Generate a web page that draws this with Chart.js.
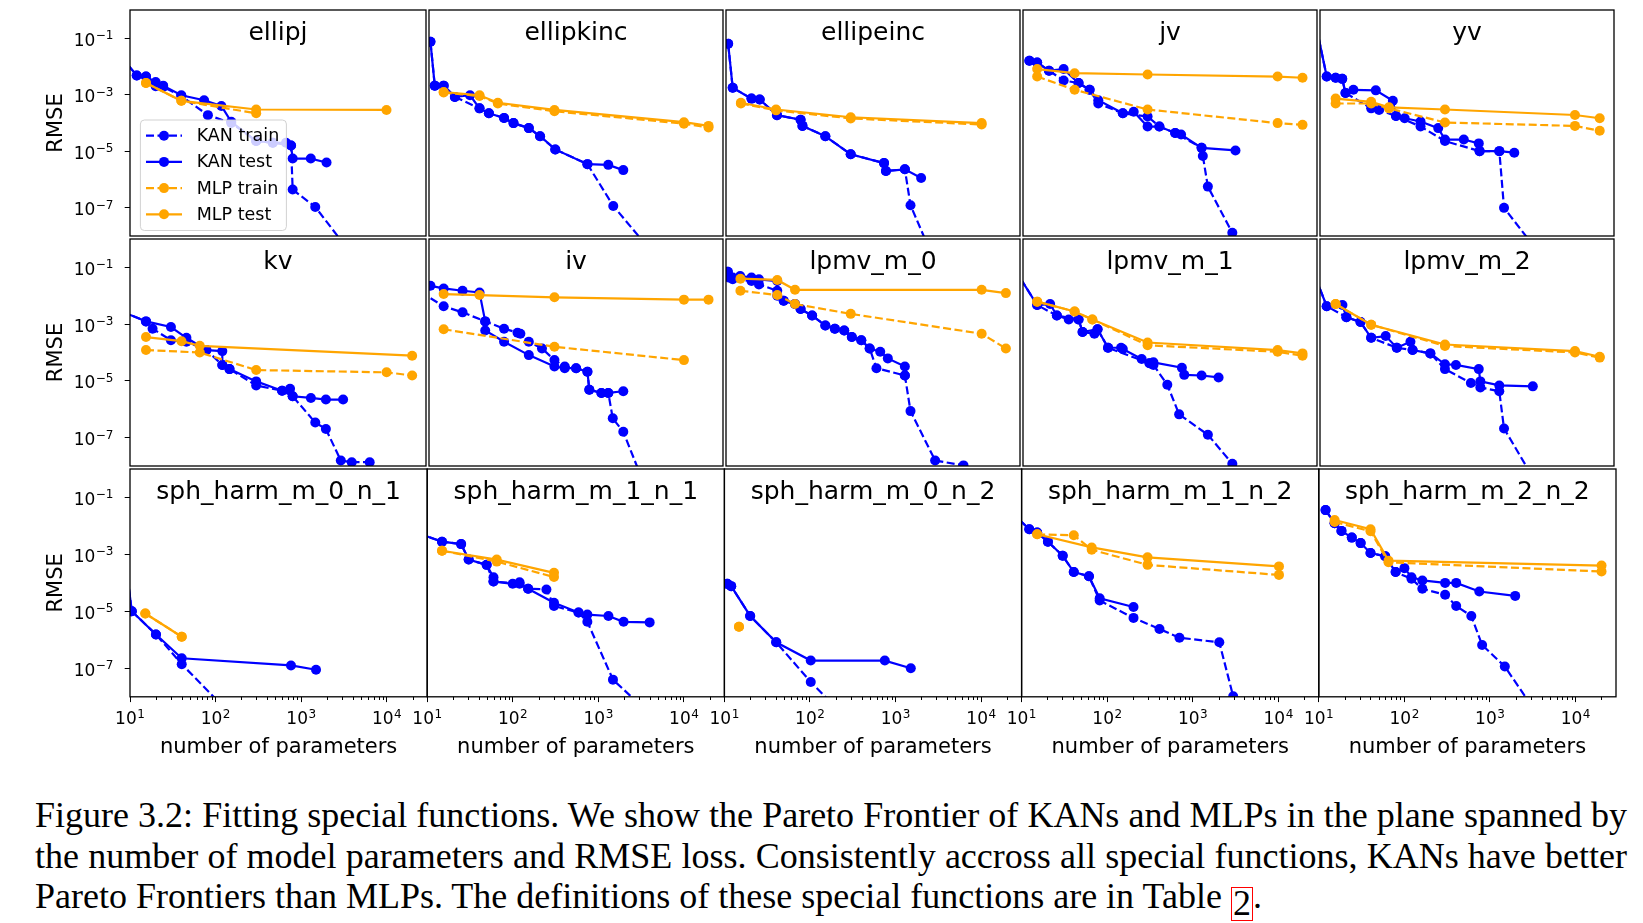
<!DOCTYPE html>
<html>
<head>
<meta charset="utf-8">
<script src="https://cdn.jsdelivr.net/npm/chart.js@4.4.0/dist/chart.umd.min.js"></script>
<style>
html,body{margin:0;padding:0;background:#fff;}
#wrap{position:relative;width:1643px;height:923px;overflow:hidden;background:#fff;}
#wrap canvas{position:absolute;}
#caption{position:absolute;left:35px;top:795px;width:1592px;font-family:"Liberation Serif","Times New Roman",serif;font-size:36px;color:#000;}
#caption div{height:40.5px;line-height:40.5px;white-space:nowrap;}
#caption div.j{text-align:justify;text-align-last:justify;}
#caption .ref{display:inline-block;border:1.6px solid #ff0000;line-height:30px;height:32px;padding:0 1px;vertical-align:-7px;}
</style>
</head>
<body>
<div id="wrap">
  <div id="caption">
    <div class="j">Figure 3.2: Fitting special functions. We show the Pareto Frontier of KANs and MLPs in the plane spanned by</div>
    <div class="j">the number of model parameters and RMSE loss. Consistently accross all special functions, KANs have better</div>
    <div>Pareto Frontiers than MLPs. The definitions of these special functions are in Table <span class="ref">2</span>.</div>
  </div>
</div>
<script>
// ---------------- data (number of parameters, RMSE) ----------------
const panelTitles = ['ellipj','ellipkinc','ellipeinc','jv','yv','kv','iv','lpmv_m_0','lpmv_m_1','lpmv_m_2',
  'sph_harm_m_0_n_1','sph_harm_m_1_n_1','sph_harm_m_0_n_2','sph_harm_m_1_n_2','sph_harm_m_2_n_2'];
const seriesLabels = ['KAN train','KAN test','MLP train','MLP test'];
const xTickValues = [10, 100, 1000, 10000];
const yTickValues = [1e-7, 1e-5, 1e-3, 1e-1];

const ellipj_kanTrain = [[8,2.1e-2],[12,4.8e-3],[15.4,4.4e-3],[20,2.0e-3],[24.5,1.9e-3],[40,9.0e-4],[82,1.9e-4],[154,1.0e-4],[302,2.3e-5],[473,2.0e-5],[774,1.6e-5],[809,4.4e-7],[1490,1.07e-7],[4000,2.2e-9]];
const ellipj_kanTest = [[8,2.1e-2],[12,4.8e-3],[15.4,4.4e-3],[20,2.8e-3],[24.5,2.1e-3],[40,9.6e-4],[74,6.4e-4],[118,4.0e-4],[154,1.1e-4],[302,2.3e-5],[473,2.0e-5],[676,2.0e-5],[774,1.6e-5],[809,5.5e-6],[1320,5.5e-6],[2020,4.0e-6]];
const ellipj_mlpTrain = [[15.4,2.6e-3],[40,6.1e-4],[302,2.2e-4]];
const ellipj_mlpTest = [[15.4,2.6e-3],[40,6.1e-4],[302,3.0e-4],[10200,2.9e-4]];

const ellipkinc_kanTrain = [[10.4,7.5e-2],[11.7,2.1e-3],[14.9,2.1e-3],[20.2,8.4e-4],[39.5,3.3e-4],[51,2.2e-4],[77,1.5e-4],[99.5,9.9e-5],[151,6.6e-5],[205,3.4e-5],[310,1.16e-5],[743,3.5e-6],[1500,1.16e-7],[4000,3.5e-9]];
const ellipkinc_kanTest = [[10.4,7.5e-2],[11.7,2.1e-3],[14.9,2.1e-3],[20.2,8.4e-4],[30.5,9.6e-4],[39.5,3.3e-4],[51,2.2e-4],[77,1.5e-4],[99.5,9.9e-5],[151,6.6e-5],[205,3.4e-5],[310,1.16e-5],[743,3.5e-6],[1310,3.3e-6],[1970,2.15e-6]];
const ellipkinc_mlpTrain = [[14.9,1.2e-3],[39.5,9.0e-4],[65,4.9e-4],[303,2.6e-4],[10250,9.5e-5],[20000,7.0e-5]];
const ellipkinc_mlpTest = [[14.9,1.25e-3],[39.5,9.6e-4],[65,5.2e-4],[303,2.9e-4],[10250,1.07e-4],[20000,7.9e-5]];

const ellipeinc_kanTrain = [[10.6,6.4e-2],[12,1.77e-3],[20,7.3e-4],[25,6.8e-4],[40,1.9e-4],[76,1.3e-4],[80,7.9e-5],[149,3.4e-5],[297,7.8e-6],[735,3.8e-6],[774,2.0e-6],[1295,2.3e-6],[1510,1.23e-7],[2500,3.6e-9]];
const ellipeinc_kanTest = [[10.6,6.4e-2],[12,1.77e-3],[20,7.3e-4],[25,6.8e-4],[40,1.9e-4],[76,1.3e-4],[80,7.9e-5],[149,3.4e-5],[297,7.8e-6],[735,3.8e-6],[774,2.0e-6],[1295,2.3e-6],[2015,1.13e-6]];
const ellipeinc_mlpTrain = [[15,4.9e-4],[39,2.8e-4],[297,1.45e-4],[10450,8.8e-5]];
const ellipeinc_mlpTest = [[15,5.2e-4],[39,3.0e-4],[297,1.6e-4],[10450,9.9e-5]];

const jv_kanTrain = [[11.9,1.59e-2],[14.7,1.39e-2],[20.3,7.1e-3],[30.2,3.2e-3],[45.3,2.6e-3],[61.2,1.5e-3],[77.5,4.9e-4],[151,2.2e-4],[296,1.7e-4],[408,7.5e-5],[627,4.4e-5],[1285,1.32e-5],[1330,6.8e-6],[1525,5.6e-7],[2965,1.3e-8]];
const jv_kanTest = [[11.9,1.59e-2],[14.7,1.39e-2],[20.3,7.1e-3],[30.2,8.1e-3],[45.3,2.6e-3],[61.2,1.5e-3],[77.5,6.4e-4],[151,2.2e-4],[203,2.5e-4],[296,7.5e-5],[408,7.5e-5],[627,4.4e-5],[736,3.9e-5],[1285,1.32e-5],[3230,1.07e-5]];
const jv_mlpTrain = [[14.7,4.4e-3],[40.7,1.5e-3],[296,3.0e-4],[10160,9.9e-5],[20000,8.6e-5]];
const jv_mlpTest = [[14.7,8.1e-3],[40.7,5.8e-3],[296,5.2e-3],[10160,4.4e-3],[20000,4.0e-3]];

const yv_kanTrain = [[8,1.5],[12,4.4e-3],[15.3,4.0e-3],[18.3,3.65e-3],[20,1.16e-3],[40.2,3.3e-4],[49.8,2.9e-4],[79,1.78e-4],[154,7.5e-5],[299,2.3e-5],[767,1.01e-5],[1312,1.01e-5],[1490,9.9e-8],[4000,2.2e-9]];
const yv_kanTest = [[8,1.5],[12,4.4e-3],[15.3,4.0e-3],[18.3,3.65e-3],[20,1.16e-3],[24.8,1.5e-3],[45.6,1.43e-3],[72.5,6.1e-4],[79,1.78e-4],[100,1.47e-4],[154,1.13e-4],[249,6.6e-5],[299,2.6e-5],[499,2.6e-5],[750,1.9e-5],[767,1.01e-5],[1312,1.01e-5],[1970,8.9e-6]];
const yv_mlpTrain = [[15.3,4.9e-4],[40.2,4.9e-4],[65.2,3.3e-4],[299,1.04e-4],[10260,7.9e-5],[20100,5.3e-5]];
const yv_mlpTest = [[15.3,7.3e-4],[40.2,5.6e-4],[65.2,3.6e-4],[299,3.0e-4],[10260,1.92e-4],[20100,1.47e-4]];

const kv_kanTrain = [[8,2.8e-3],[15.4,1.25e-3],[18.4,6.9e-4],[30.2,2.7e-4],[45.9,2.4e-4],[78.7,1.22e-4],[121,3.65e-5],[147,2.6e-5],[302,6.9e-6],[608,4.5e-6],[809,2.87e-6],[1490,3.4e-7],[1985,2.0e-7],[2970,1.56e-8],[3990,1.36e-8],[6480,1.36e-8]];
const kv_kanTest = [[8,2.8e-3],[15.4,1.25e-3],[30.2,7.9e-4],[45.9,3.3e-4],[78.7,1.22e-4],[121,1.12e-4],[121,3.65e-5],[147,2.6e-5],[302,9.6e-6],[608,4.5e-6],[754,5.3e-6],[809,2.87e-6],[1324,2.5e-6],[1985,2.2e-6],[3160,2.2e-6]];
const kv_mlpTrain = [[15.4,1.22e-4],[65.8,1.0e-4],[302,2.4e-5],[10230,2.0e-5],[20400,1.55e-5]];
const kv_mlpTest = [[15.4,3.5e-4],[40.2,2.5e-4],[65.8,1.72e-4],[20400,7.7e-5]];

const iv_kanTrain = [[8,1.32e-2],[14.9,4.27e-3],[24.9,2.6e-3],[46.1,1.25e-3],[77,6.9e-4],[111,5.0e-4],[120,4.6e-4],[151,2.4e-4],[216,1.39e-4],[303,5.4e-5],[401,3.2e-5],[546,2.8e-5],[743,2.1e-5],[782,4.9e-6],[1087,3.75e-6],[1310,3.75e-6],[1480,4.8e-7],[1970,1.6e-7],[3200,4.2e-9]];
const iv_kanTest = [[10.4,2.24e-2],[14.9,1.81e-2],[24.9,1.5e-2],[39.5,1.31e-2],[46.1,1.25e-3],[46.1,6.0e-4],[77,2.4e-4],[151,8.1e-5],[303,3.2e-5],[401,2.8e-5],[546,2.8e-5],[743,2.1e-5],[782,4.9e-6],[1087,3.75e-6],[1310,3.75e-6],[1970,4.3e-6]];
const iv_mlpTrain = [[14.9,6.6e-4],[303,1.59e-4],[10250,5.4e-5]];
const iv_mlpTest = [[14.9,1.15e-2],[39.5,1.06e-2],[303,8.8e-3],[10250,7.3e-3],[20000,7.3e-3]];

const lpmv0_kanTrain = [[10.5,7.0e-2],[10.8,4.4e-2],[12,3.8e-2],[20,3.3e-2],[24.5,2.5e-2],[40.3,1.5e-2],[48,6.7e-3],[65.3,5.1e-3],[76,3.4e-3],[104,2.0e-3],[149,9.0e-4],[193,6.9e-4],[249,6.0e-4],[306,3.5e-4],[396,2.7e-4],[497,1.39e-4],[598,2.8e-5],[1295,1.55e-5],[1510,8.6e-7],[2950,1.56e-8],[6380,1.05e-8]];
const lpmv0_kanTest = [[10.5,7.0e-2],[10.8,5.0e-2],[12,4.4e-2],[14.7,5.0e-2],[20,4.4e-2],[24.5,3.8e-2],[40.3,3.3e-2],[40.3,1.0e-2],[48,6.7e-3],[65.3,5.1e-3],[76,3.4e-3],[104,2.0e-3],[149,9.0e-4],[193,6.9e-4],[249,6.0e-4],[306,3.5e-4],[396,2.7e-4],[497,1.39e-4],[663,1.06e-4],[815,6.2e-5],[1295,3.2e-5],[1295,1.55e-5]];
const lpmv0_mlpTrain = [[14.8,1.5e-2],[40.3,1.06e-2],[65.3,5.1e-3],[297,2.3e-3],[10450,4.6e-4],[20200,1.39e-4]];
const lpmv0_mlpTest = [[14.8,4.0e-2],[40.3,3.6e-2],[65.3,1.62e-2],[10450,1.62e-2],[20200,1.24e-2]];

const lpmv1_kanTrain = [[8,8.5e-2],[14.7,4.7e-3],[25.1,2.0e-3],[45.3,1.46e-3],[50.5,5.3e-4],[75.9,6.6e-4],[101,1.47e-4],[312,4.2e-5],[347,3.65e-5],[506,7.3e-6],[698,6.6e-7],[1525,1.26e-7],[2965,1.2e-8]];
const lpmv1_kanTest = [[8,8.5e-2],[14.7,4.7e-3],[20.9,5.1e-3],[25.1,2.0e-3],[34.7,1.46e-3],[45.3,1.46e-3],[50.5,5.3e-4],[69.7,4.6e-4],[75.9,6.6e-4],[101,1.47e-4],[144,1.47e-4],[151,1.32e-4],[252,5.9e-5],[312,4.2e-5],[347,4.5e-5],[752,2.9e-5],[802,1.63e-5],[1285,1.55e-5],[2040,1.32e-5]];
const lpmv1_mlpTrain = [[14.7,6.2e-3],[40.7,2.8e-3],[65.9,1.46e-3],[296,1.8e-4],[10160,1.06e-4],[20000,7.7e-5]];
const lpmv1_mlpTest = [[14.7,6.2e-3],[40.7,2.8e-3],[65.9,1.46e-3],[296,2.25e-4],[10160,1.22e-4],[20000,9.3e-5]];

const lpmv2_kanTrain = [[8,9.5e-2],[12,4.27e-3],[20.5,1.76e-3],[30.1,1.18e-3],[40.2,3.3e-4],[80.7,1.47e-4],[124,1.22e-4],[201,9.3e-5],[299,2.6e-5],[605,8.4e-6],[783,5.9e-6],[1310,4.3e-6],[1490,2.1e-7],[3550,2.6e-9]];
const lpmv2_kanTest = [[8,9.5e-2],[12,4.27e-3],[18.4,4.7e-3],[20.5,1.76e-3],[30.1,1.18e-3],[40.2,3.3e-4],[59.7,3.8e-4],[80.7,1.47e-4],[117,2.4e-4],[124,1.22e-4],[201,9.3e-5],[299,3.85e-5],[403,3.65e-5],[750,2.6e-5],[783,9.6e-6],[1310,6.9e-6],[3260,6.4e-6]];
const lpmv2_mlpTrain = [[15.3,5.1e-3],[40.2,9.5e-4],[299,1.7e-4],[10260,1.0e-4],[20100,6.6e-5]];
const lpmv2_mlpTest = [[15.3,5.1e-3],[40.2,9.5e-4],[299,1.91e-4],[10260,1.12e-4],[20100,7.1e-5]];

const sh01_kanTrain = [[8,6.3e-3],[10.5,1.01e-5],[20.1,1.55e-6],[40.2,1.4e-7],[200,1e-9]];
const sh01_kanTest = [[8,6.3e-3],[10.5,1.01e-5],[20.1,1.55e-6],[40.2,2.26e-7],[760,1.26e-7],[1490,8.9e-8]];
const sh01_mlpTrain = [[15.1,8.4e-6],[40.2,1.29e-6]];
const sh01_mlpTest = [[15.1,8.4e-6],[40.2,1.29e-6]];

const sh11_kanTrain = [[8,5.4e-3],[14.9,2.8e-3],[24.9,2.3e-3],[30.5,6.6e-4],[49.5,4.3e-4],[59.5,1.12e-4],[120,9.3e-5],[151,6.2e-5],[247,5.9e-5],[303,1.55e-5],[586,9.1e-6],[743,4.3e-6],[1480,4.0e-8],[3500,3.6e-9]];
const sh11_kanTest = [[8,5.4e-3],[14.9,2.8e-3],[24.9,2.3e-3],[30.5,6.6e-4],[49.5,4.3e-4],[59.5,1.59e-4],[59.5,1.12e-4],[99.7,9.3e-5],[120,1.06e-4],[151,6.2e-5],[303,2.0e-5],[586,9.1e-6],[743,7.7e-6],[1310,6.9e-6],[1970,4.3e-6],[3970,4.1e-6]];
const sh11_mlpTrain = [[14.9,1.35e-3],[64.9,5.6e-4],[303,1.6e-4]];
const sh11_mlpTest = [[14.9,1.35e-3],[64.9,6.6e-4],[303,2.25e-4]];

const sh02_kanTrain = [[10.8,9.3e-5],[12,7.7e-5],[20,6.9e-6],[40.3,8.2e-7],[102,3.3e-8],[300,1.25e-9]];
const sh02_kanTest = [[10.8,9.3e-5],[12,7.7e-5],[20,6.9e-6],[40.3,8.2e-7],[102,1.87e-7],[748,1.87e-7],[1505,1.01e-7]];
const sh02_mlpTrain = [[14.8,2.9e-6]];
const sh02_mlpTest = [[14.8,2.9e-6]];

const sh12_kanTrain = [[8,2.6e-2],[12.3,7.7e-3],[15.2,5.9e-3],[20.3,2.8e-3],[30.2,9.0e-4],[40.7,2.4e-4],[61.2,1.72e-4],[81.7,2.4e-5],[203,5.9e-6],[408,2.4e-6],[698,1.19e-6],[2040,8.2e-7],[2965,1.04e-8]];
const sh12_kanTest = [[8,2.6e-2],[12.3,7.7e-3],[15.2,5.9e-3],[20.3,2.8e-3],[30.2,9.0e-4],[40.7,2.4e-4],[61.2,1.72e-4],[81.7,2.9e-5],[203,1.43e-5]];
const sh12_mlpTrain = [[15.2,5.1e-3],[40.7,4.7e-3],[65.9,1.46e-3],[296,4.3e-4],[10160,1.91e-4]];
const sh12_mlpTest = [[15.2,5.1e-3],[65.9,1.76e-3],[296,7.9e-4],[10160,3.8e-4]];

const sh22_kanTrain = [[12,3.6e-2],[15.3,1.24e-2],[18.4,6.7e-3],[24.3,3.9e-3],[30.8,2.5e-3],[40.2,1.12e-3],[59.7,8.6e-4],[79,2.4e-4],[121,1.39e-4],[162,6.2e-5],[299,3.85e-5],[403,1.55e-5],[605,6.9e-6],[809,6.6e-7],[1490,1.16e-7],[3550,2.5e-9]];
const sh22_kanTest = [[12,3.6e-2],[15.3,1.24e-2],[18.4,6.7e-3],[24.3,3.9e-3],[30.8,2.5e-3],[40.2,1.12e-3],[59.7,8.6e-4],[79,2.4e-4],[100,3.3e-4],[121,1.59e-4],[162,1.22e-4],[299,1.0e-4],[403,1.0e-4],[750,5.0e-5],[1970,3.5e-5]];
const sh22_mlpTrain = [[15.3,1.38e-2],[40.2,6.5e-3],[65.2,5.3e-4],[20100,2.5e-4]];
const sh22_mlpTest = [[15.3,1.62e-2],[40.2,7.7e-3],[65.2,6.05e-4],[20100,4.05e-4]];

const panelSeries = [
  [ellipj_kanTrain, ellipj_kanTest, ellipj_mlpTrain, ellipj_mlpTest],
  [ellipkinc_kanTrain, ellipkinc_kanTest, ellipkinc_mlpTrain, ellipkinc_mlpTest],
  [ellipeinc_kanTrain, ellipeinc_kanTest, ellipeinc_mlpTrain, ellipeinc_mlpTest],
  [jv_kanTrain, jv_kanTest, jv_mlpTrain, jv_mlpTest],
  [yv_kanTrain, yv_kanTest, yv_mlpTrain, yv_mlpTest],
  [kv_kanTrain, kv_kanTest, kv_mlpTrain, kv_mlpTest],
  [iv_kanTrain, iv_kanTest, iv_mlpTrain, iv_mlpTest],
  [lpmv0_kanTrain, lpmv0_kanTest, lpmv0_mlpTrain, lpmv0_mlpTest],
  [lpmv1_kanTrain, lpmv1_kanTest, lpmv1_mlpTrain, lpmv1_mlpTest],
  [lpmv2_kanTrain, lpmv2_kanTest, lpmv2_mlpTrain, lpmv2_mlpTest],
  [sh01_kanTrain, sh01_kanTest, sh01_mlpTrain, sh01_mlpTest],
  [sh11_kanTrain, sh11_kanTest, sh11_mlpTrain, sh11_mlpTest],
  [sh02_kanTrain, sh02_kanTest, sh02_mlpTrain, sh02_mlpTest],
  [sh12_kanTrain, sh12_kanTest, sh12_mlpTrain, sh12_mlpTest],
  [sh22_kanTrain, sh22_kanTest, sh22_mlpTrain, sh22_mlpTest]
];

// ---------------- styling / layout ----------------
const COLORS = ['#0000ff', '#0000ff', '#ffa500', '#ffa500'];
const DASHES = [[8, 3.5], [], [8, 3.5], []];
const LINE_W = 2.2, PT_R = 5;
const X_MIN = 10, X_MAX = 29650, Y_MIN = 1e-8, Y_MAX = 1;
const COL_L = [130, 427.2, 724.4, 1021.6, 1318.8], PANEL_W = 297.2;
const ROW_T = [8.4, 237.9, 467.3], PANEL_H = 229.5;
const FONT = '"DejaVu Sans", sans-serif';

Chart.defaults.font.family = FONT;
Chart.defaults.color = '#000';

// draws a tick label "10" with a raised exponent, positioned via the scale
function drawPowLabel(ctx, value, x, baseY, align) {
  const e = Math.round(Math.log10(value));
  const base = '10', sup = String(e).replace('-', '\u2212');
  ctx.font = '17px ' + FONT;
  const w1 = ctx.measureText(base).width;
  ctx.font = '12px ' + FONT;
  const w2 = ctx.measureText(sup).width;
  const total = w1 + 0.5 + w2;
  const x0 = align === 'right' ? x - total : x - total / 2;
  ctx.textAlign = 'left';
  ctx.textBaseline = 'alphabetic';
  ctx.font = '17px ' + FONT;
  ctx.fillText(base, x0, baseY);
  ctx.font = '12px ' + FONT;
  ctx.fillText(sup, x0 + w1 + 0.5, baseY - 6.5);
}

function zeroScalePadding(s) {
  s.paddingTop = 0; s.paddingBottom = 0; s.paddingLeft = 0; s.paddingRight = 0;
}

const decor = {
  id: 'decor',
  afterDraw(chart, args, o) {
    const ctx = chart.ctx, a = chart.chartArea;
    ctx.save();
    ctx.strokeStyle = '#000';
    ctx.fillStyle = '#000';
    ctx.lineWidth = 1;
    if (o.xAxis) {
      const xs = chart.scales.x;
      ctx.beginPath();
      for (let d = 10; d < X_MAX; d *= 10) {
        for (let k = 2; k <= 9; k++) {
          const v = k * d;
          if (v > X_MAX) break;
          const px = Math.round(xs.getPixelForValue(v)) + 0.5;
          ctx.moveTo(px, a.bottom); ctx.lineTo(px, a.bottom + 3.2);
        }
      }
      ctx.stroke();
      xs.ticks.forEach(t => drawPowLabel(ctx, t.value, xs.getPixelForValue(t.value), a.bottom + 27.3, 'center'));
    }
    if (o.yAxis) {
      const ys = chart.scales.y;
      ys.ticks.forEach(t => drawPowLabel(ctx, t.value, a.left - 16.5, ys.getPixelForValue(t.value) + 7.4, 'right'));
    }
    // frame
    ctx.lineWidth = 1.3;
    ctx.strokeRect(a.left, a.top, a.right - a.left, a.bottom - a.top);
    // panel title
    ctx.fillStyle = '#000';
    ctx.font = '25px ' + FONT;
    ctx.textAlign = 'center';
    ctx.textBaseline = 'alphabetic';
    ctx.fillText(o.title, (a.left + a.right) / 2, a.top + 29.5);
    // legend
    if (o.legend) {
      const bx = a.left + 10.4, by = a.top + 110, bw = 146, bh = 110.5, r = 4;
      ctx.beginPath();
      ctx.moveTo(bx + r, by);
      ctx.arcTo(bx + bw, by, bx + bw, by + bh, r);
      ctx.arcTo(bx + bw, by + bh, bx, by + bh, r);
      ctx.arcTo(bx, by + bh, bx, by, r);
      ctx.arcTo(bx, by, bx + bw, by, r);
      ctx.closePath();
      ctx.fillStyle = 'rgba(255,255,255,0.8)';
      ctx.fill();
      ctx.strokeStyle = 'rgba(204,204,204,0.9)';
      ctx.lineWidth = 1;
      ctx.stroke();
      const rows = [125.7, 151.9, 178.1, 204.3];
      ctx.font = '17.5px ' + FONT;
      ctx.textAlign = 'left';
      ctx.textBaseline = 'middle';
      seriesLabels.forEach((lab, i) => {
        const y = a.top + rows[i];
        ctx.strokeStyle = COLORS[i];
        ctx.lineWidth = LINE_W;
        ctx.setLineDash(DASHES[i]);
        ctx.beginPath();
        ctx.moveTo(a.left + 16, y); ctx.lineTo(a.left + 52, y);
        ctx.stroke();
        ctx.setLineDash([]);
        ctx.fillStyle = COLORS[i];
        ctx.beginPath(); ctx.arc(a.left + 34, y, PT_R, 0, Math.PI * 2); ctx.fill();
        ctx.fillStyle = '#000';
        ctx.fillText(lab, a.left + 66.7, y + 1);
      });
    }
    ctx.restore();
  }
};

const wrap = document.getElementById('wrap');

panelTitles.forEach((title, i) => {
  const r = Math.floor(i / 5), c = i % 5;
  const L = COL_L[c], T = ROW_T[r], W = PANEL_W, H = PANEL_H;
  const hasY = c === 0, hasX = r === 2;
  const padL = hasY ? L : (hasX ? 26 : 3), padR = hasX ? 26 : 3, padT = 3, padB = hasX ? 72 : 3;
  const cx = Math.floor(L - padL), cy = Math.floor(T - padT);
  const inL = L - cx, inT = T - cy;
  const cw = Math.ceil(inL + W + padR), ch = Math.ceil(inT + H + padB);
  const yW = hasY ? 128 : 0, xH = hasX ? 68 : 0;

  const canvas = document.createElement('canvas');
  canvas.width = cw; canvas.height = ch;
  canvas.style.left = cx + 'px'; canvas.style.top = cy + 'px';
  canvas.style.width = cw + 'px'; canvas.style.height = ch + 'px';
  wrap.appendChild(canvas);

  const datasets = panelSeries[i].map((arr, k) => ({
    label: seriesLabels[k],
    data: arr.map(([x, y]) => ({x, y})),
    showLine: true,
    borderColor: COLORS[k],
    backgroundColor: COLORS[k],
    borderWidth: LINE_W,
    borderDash: DASHES[k],
    pointRadius: PT_R,
    pointHoverRadius: PT_R,
    pointBorderWidth: 0,
    pointBackgroundColor: COLORS[k],
    tension: 0,
    clip: 0,
    order: 4 - k
  }));

  new Chart(canvas, {
    type: 'scatter',
    data: {datasets},
    plugins: [decor],
    options: {
      responsive: false,
      animation: false,
      devicePixelRatio: 1,
      events: [],
      layout: {padding: {left: inL - yW, top: inT, right: cw - inL - W, bottom: ch - inT - H - xH}},
      plugins: {
        legend: {display: false},
        tooltip: {enabled: false},
        decor: {title, legend: i === 0, xAxis: hasX, yAxis: hasY}
      },
      scales: {
        x: {
          type: 'logarithmic', min: X_MIN, max: X_MAX, position: 'bottom', display: hasX,
          afterBuildTicks: s => { s.ticks = xTickValues.map(v => ({value: v})); },
          afterFit: s => { zeroScalePadding(s); if (hasX) s.height = xH; },
          ticks: {display: false, autoSkip: false, maxRotation: 0},
          grid: {display: true, drawOnChartArea: false, drawTicks: true, tickLength: 5.3, color: '#000', lineWidth: 1},
          border: {display: false},
          title: {display: true, text: 'number of parameters', color: '#000', font: {size: 21, lineHeight: 1.2}, padding: {top: 0, bottom: 4.4}}
        },
        y: {
          type: 'logarithmic', min: Y_MIN, max: Y_MAX, position: 'left', display: hasY,
          afterBuildTicks: s => { s.ticks = yTickValues.map(v => ({value: v})); },
          afterFit: s => { zeroScalePadding(s); if (hasY) s.width = yW; },
          ticks: {display: false, autoSkip: false},
          grid: {display: true, drawOnChartArea: false, drawTicks: true, tickLength: 5.3, color: '#000', lineWidth: 1},
          border: {display: false},
          title: {display: true, text: 'RMSE', color: '#000', font: {size: 21, lineHeight: 1.2}, padding: {top: 42, bottom: 0}}
        }
      }
    }
  });
});
</script>
</body>
</html>
